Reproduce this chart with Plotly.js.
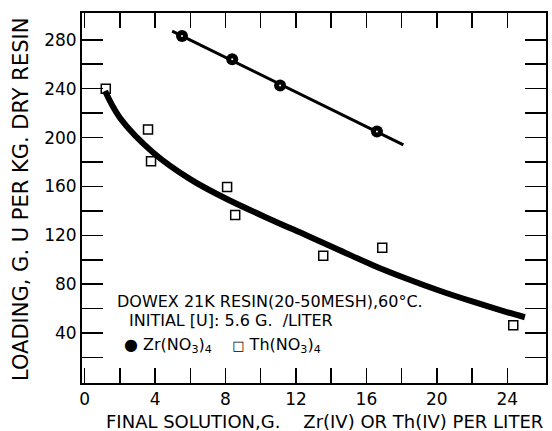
<!DOCTYPE html>
<html>
<head>
<meta charset="utf-8">
<script src="https://cdn.plot.ly/plotly-3.0.1.min.js"></script>
<style>html,body{margin:0;padding:0;background:#fff;}#chart{width:552px;height:431px;}</style>
</head>
<body>
<div id="chart"></div>
<script>
// Th(NO3)4 measured points (open squares)
const thX = [1.2, 3.6, 3.77, 8.09, 8.55, 13.55, 16.9, 24.34];
const thY = [240, 206.5, 180.6, 159.5, 136.7, 103.3, 109.8, 46.4];
// Th(NO3)4 drawn smooth curve
const thCurveX = [1.16, 2.01, 3.9, 5.99, 8.07, 10.72, 12.62, 14.51, 16.4, 18.3, 20.2, 22.1, 23.6, 25.0];
const thCurveY = [238, 216, 187.6, 166, 149.7, 132, 119.9, 107.6, 95.4, 84.5, 74.5, 65.5, 58.8, 53];
// Zr(NO3)4 measured points (filled circles)
const zrX = [5.53, 8.38, 11.1, 16.6];
const zrY = [283, 264, 242.5, 205];
// Zr(NO3)4 fitted straight line
const zrFitX = [4.97, 18.1];
const zrFitY = [287, 194];

// Axis ticks and labels
const xTickVals = [0, 4, 8, 12, 16, 20, 24];
const xTickText = ['0', '4', '8', '12', '16', '20', '24'];
const xMinorVals = [2, 6, 10, 14, 18, 22];
const yTickVals = [40, 80, 120, 160, 200, 240, 280];
const yTickText = ['40', '80', '120', '160', '200', '240', '280'];
const yMinorVals = [20, 60, 100, 140, 180, 220, 260];

const xTitle = 'FINAL SOLUTION,G.\u00A0\u00A0\u00A0\u00A0Zr(IV) OR Th(IV) PER LITER';
const yTitle = 'LOADING, G. U PER KG. DRY RESIN';
const note1 = 'DOWEX 21K RESIN(20-50MESH),60°C.';
const note2 = 'INITIAL [U]: 5.6 G.\u00A0\u00A0/LITER';
const note3 = '● Zr(NO<sub>3</sub>)<sub>4</sub>\u00A0\u00A0\u00A0\u00A0<span style="font-size:13px">□</span> Th(NO<sub>3</sub>)<sub>4</sub>';

const FONT = 'DejaVu Sans, Liberation Sans, Arial, sans-serif';

const traces = [
  {x: thCurveX, y: thCurveY, mode: 'lines', line: {color: '#000', width: 6, shape: 'spline', smoothing: 1}, hoverinfo: 'skip'},
  {x: thX, y: thY, mode: 'markers', marker: {symbol: 'square-open', size: 9, color: '#000', line: {width: 1.5, color: '#000'}}},
  {x: zrFitX, y: zrFitY, mode: 'lines', line: {color: '#000', width: 3}},
  {x: zrX, y: zrY, mode: 'markers', marker: {symbol: 'circle', size: 12, color: '#000'}},
  {x: zrX, y: zrY, mode: 'markers', marker: {symbol: 'circle', size: 2, color: '#fff'}}
];

const axisCommon = {
  showgrid: false, zeroline: false, showline: true, linecolor: '#000', linewidth: 2,
  mirror: 'ticks', ticks: 'inside', tickcolor: '#000', tickwidth: 1.5,
  tickmode: 'array', tickfont: {family: FONT, size: 17, color: '#000'}
};

const layout = {
  width: 552, height: 431,
  margin: {l: 82, r: 6, t: 13, b: 48},
  paper_bgcolor: '#fff', plot_bgcolor: '#fff',
  showlegend: false,
  font: {family: FONT, color: '#000'},
  xaxis: Object.assign({}, axisCommon, {range: [-0.15, 26.2], tickvals: xTickVals, ticktext: xTickText, ticklen: 15,
    minor: {tickmode: 'array', tickvals: xMinorVals, ticks: 'inside', ticklen: 15, tickwidth: 1.5, tickcolor: '#000', showgrid: false}}),
  yaxis: Object.assign({}, axisCommon, {range: [-0.8, 301.9], tickvals: yTickVals, ticktext: yTickText, ticklen: 21,
    minor: {tickmode: 'array', tickvals: yMinorVals, ticks: 'inside', ticklen: 21, tickwidth: 1.5, tickcolor: '#000', showgrid: false}}),
  annotations: [
    {xref: 'paper', yref: 'paper', x: 0.5216, y: -0.104, xanchor: 'center', yanchor: 'middle', showarrow: false,
     text: xTitle, font: {family: FONT, size: 18, color: '#000'}},
    {xref: 'paper', yref: 'paper', x: -0.131, y: 0.495, xanchor: 'center', yanchor: 'middle', showarrow: false,
     textangle: -90, text: yTitle, font: {family: FONT, size: 21, color: '#000'}},
    {xref: 'x', yref: 'y', x: 1.73, y: 66, xanchor: 'left', yanchor: 'middle', showarrow: false,
     text: note1, font: {family: FONT, size: 16, color: '#000'}},
    {xref: 'x', yref: 'y', x: 2.4, y: 50, xanchor: 'left', yanchor: 'middle', showarrow: false,
     text: note2, font: {family: FONT, size: 16, color: '#000'}},
    {xref: 'x', yref: 'y', x: 2.1, y: 30, xanchor: 'left', yanchor: 'middle', showarrow: false,
     text: note3, font: {family: FONT, size: 16, color: '#000'}}
  ]
};

Plotly.newPlot('chart', traces, layout, {staticPlot: true, displayModeBar: false});
</script>
</body>
</html>
